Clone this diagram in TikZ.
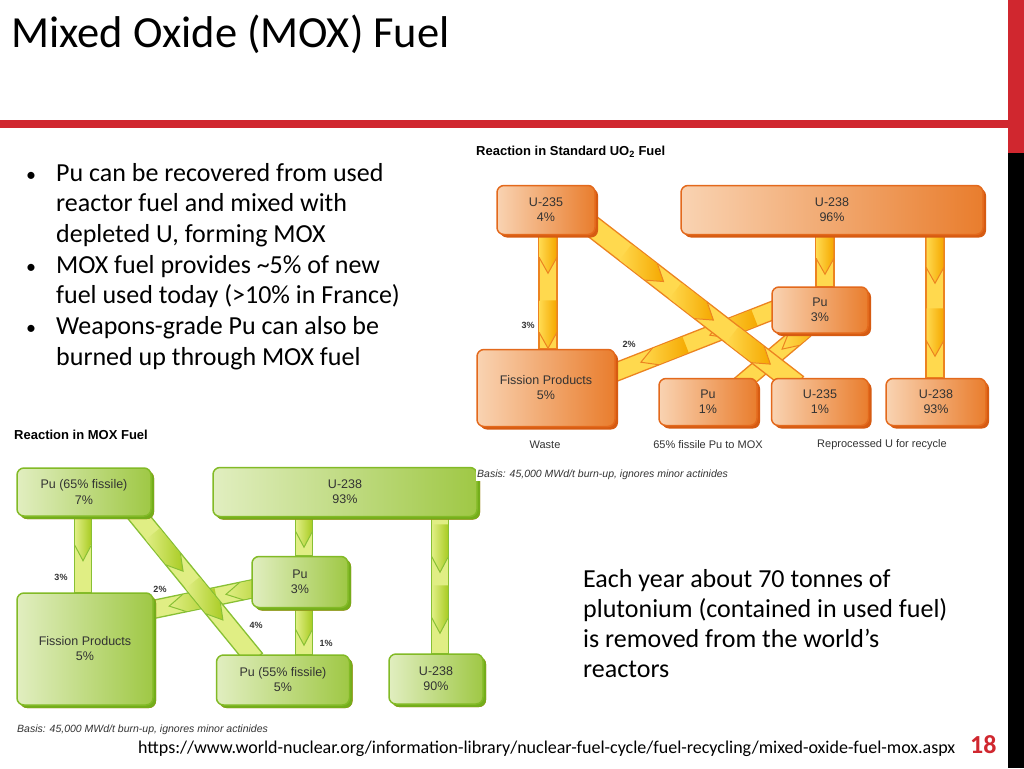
\documentclass[tikz,border=0pt]{standalone}
\usepackage{fontspec}
\setmainfont{Carlito}
\newfontfamily\arialfont{Liberation Sans}
\usetikzlibrary{calc,shadows,decorations.markings}
\definecolor{slidered}{HTML}{D0272F}
\definecolor{diagtext}{HTML}{333333}
\definecolor{oxedge}{HTML}{E3691C}
\definecolor{oxlight}{HTML}{F9D3B2}
\definecolor{oxdark}{HTML}{E97D2D}
\definecolor{oxshade}{HTML}{D65B12}
\definecolor{oxfill}{HTML}{FFD94E}
\definecolor{oxchev}{HTML}{F5A800}
\definecolor{oxband}{HTML}{EC8320}
\definecolor{gnedge}{HTML}{82BA26}
\definecolor{gnlight}{HTML}{E1EEC0}
\definecolor{gndark}{HTML}{9FC845}
\definecolor{gnshade}{HTML}{74AD1B}
\definecolor{gnfill}{HTML}{E0EE84}
\definecolor{gnchev}{HTML}{A9CC24}
\definecolor{gnband}{HTML}{88C034}
\pgfdeclarelayer{background}
\pgfsetlayers{background,main}
\newcommand{\dgfont}{\arialfont\fontsize{12.5}{15}\selectfont}
% one broad flow band between two points, with chevrons whose tips sit at the
% given distances (pt) from the start
\newcommand{\flowband}[5]{%
  \begin{pgfonlayer}{background}
  \path[fill=#1fill,draw=#1band,line width=1.3pt] ($(#2)!#4pt!90:(#3)$) -- ($(#3)!#4pt!-90:(#2)$)
    -- ($(#3)!#4pt!90:(#2)$) -- ($(#2)!#4pt!-90:(#3)$) -- cycle;
  \foreach \d in {#5}{
    \path[decoration={markings,mark=at position \d pt with {
      \shade[left color=#1fill,right color=#1chev] (-48,-#4+.6) -- (-16,-#4+.6) -- (0,0) -- (-16,#4-.6) -- (-48,#4-.6) -- cycle;
      \draw[#1band,line width=1pt] (-16,-#4) -- (0,0) -- (-16,#4);
    }},decorate] (#2) -- (#3);
  }
  \end{pgfonlayer}
}

\begin{document}
\begin{tikzpicture}[x=1pt,y=-1pt,
  oxbox/.style={draw=oxedge,line width=1.5pt,rounded corners=7pt,left color=oxlight,right color=oxdark,
    text=diagtext,align=center,font=\dgfont,inner sep=0pt,
    drop shadow={shadow xshift=3pt,shadow yshift=-3pt,fill=oxshade,opacity=1}},
  gnbox/.style={oxbox,draw=gnedge,left color=gnlight,right color=gndark,
    drop shadow={shadow xshift=3pt,shadow yshift=-3pt,fill=gnshade,opacity=1}},
  pct/.style={text=diagtext,font=\arialfont\bfseries\fontsize{9}{10}\selectfont,inner sep=0pt},
  foot/.style={text=diagtext,font=\arialfont\fontsize{11}{12}\selectfont,inner sep=0pt},
  basis/.style={text=diagtext,font=\arialfont\itshape\fontsize{10.5}{12}\selectfont,inner sep=1pt,anchor=west},
  head/.style={text=black,font=\arialfont\bfseries\fontsize{13}{14}\selectfont,inner sep=0pt,anchor=west},
  body/.style={font=\fontsize{26}{30}\selectfont,inner sep=0pt,anchor=base west}]
  \path[use as bounding box] (0,0) rectangle (1024,768);
  \begin{pgfonlayer}{background}
    \fill[white] (0,0) rectangle (1024,768);
  \end{pgfonlayer}

  % slide frame
  \fill[slidered] (0,120) rectangle (1008,128);
  \fill[slidered] (1008,0) rectangle (1024,153);
  \fill[black] (1008,153) rectangle (1024,768);
  \node[inner sep=0pt,anchor=base west,font=\fontsize{44.5}{50}\selectfont] (title) at (11,48) {Mixed Oxide (MOX) Fuel};

  % bullet list
  \foreach \txt [count=\k] in {Pu can be recovered from used,reactor fuel and mixed with,
      {depleted U, forming MOX},MOX fuel provides \textasciitilde5\% of new,fuel used today (>10\% in France),
      Weapons-grade Pu can also be,burned up through MOX fuel}
    \node[body] (line\k) at (56,{181+30.7*(\k-1)}) {\txt};
  \foreach \k in {1,4,6}
    \node[body,font=\fontsize{20}{30}\selectfont] (dot\k) at (26,{181+30.7*(\k-1)}) {•};

  % reaction in standard UO2 fuel
  \node[head] (headox) at (476,152) {Reaction in Standard UO\textsubscript{2} Fuel};
  \node[oxbox,minimum width=98pt,minimum height=49pt] (u235a) at (546,210) {U-235\\4\%};
  \node[oxbox,minimum width=302pt,minimum height=49pt] (u238a) at (832,210) {U-238\\96\%};
  \node[oxbox,minimum width=96pt,minimum height=46pt] (pua) at (820,310) {Pu\\3\%};
  \node[oxbox,minimum width=138pt,minimum height=77pt] (fpa) at (546,388) {Fission Products\\5\%};
  \node[oxbox,minimum width=98pt,minimum height=47pt] (pub) at (708,402) {Pu\\1\%};
  \node[oxbox,minimum width=97pt,minimum height=47pt] (u235b) at (820,402) {U-235\\1\%};
  \node[oxbox,minimum width=100pt,minimum height=47pt] (u238b) at (936,402) {U-238\\93\%};

  \coordinate (a1s) at ([xshift=2pt]u235a.south);
  \coordinate (a1e) at (a1s |- fpa.north);
  \coordinate (a2s) at ([xshift=5pt]pua.north |- u238a.south);
  \coordinate (a2e) at ([xshift=5pt]pua.north);
  \coordinate (a3s) at ([xshift=-1pt]u238b.north |- u238a.south);
  \coordinate (a3e) at ([xshift=-1pt]u238b.north);
  \coordinate (a4s) at ($(pua.west)+(13,-4)$);
  \coordinate (a4e) at ($(fpa.east)+(-10,-12)$);
  \coordinate (a5s) at ($(pua.south)+(-15,-4)$);
  \coordinate (a5e) at ($(pub.north)+(32,7)$);
  \coordinate (a6s) at ($(u235a.south east)+(-5,-10)$);
  \coordinate (a6e) at ($(u235b.north)+(-23,7)$);
  \flowband{ox}{a1s}{a1e}{9}{38,113}
  \flowband{ox}{a2s}{a2e}{9}{39}
  \flowband{ox}{a3s}{a3e}{9}{48,121}
  \flowband{ox}{a4s}{a4e}{9}{80,154}
  \flowband{ox}{a5s}{a5e}{8.5}{30}
  \flowband{ox}{a6s}{a6e}{10.5}{92,155,227}

  \node[pct] (pctox1) at (528,325) {3\%};
  \node[pct] (pctox2) at (629,344) {2\%};
  \node[foot] (waste) at (545,445) {Waste};
  \node[foot] (tomox) at (708,445) {65\% fissile Pu to MOX};
  \node[foot] (recycle) at (882,445) {Reprocessed U for recycle};

  % reaction in MOX fuel
  \node[head] (headgn) at (14,435) {Reaction in MOX Fuel};
  \node[gnbox,minimum width=134pt,minimum height=48pt] (pu65) at (84,492) {Pu (65\% fissile)\\7\%};
  \node[gnbox,minimum width=264pt,minimum height=49pt] (u238g) at (345,492) {U-238\\93\%};
  \node[gnbox,minimum width=96pt,minimum height=51pt] (pu3g) at (300,582) {Pu\\3\%};
  \node[gnbox,minimum width=136pt,minimum height=112pt] (fpg) at (85,649) {Fission Products\\5\%};
  \node[gnbox,minimum width=133pt,minimum height=50pt] (pu55) at (283,680) {Pu (55\% fissile)\\5\%};
  \node[gnbox,minimum width=94pt,minimum height=50pt] (u238h) at (436,679) {U-238\\90\%};

  \coordinate (g1s) at ([xshift=-1pt]pu65.south);
  \coordinate (g1e) at (g1s |- fpg.north);
  \coordinate (g2s) at ($(pu65.south east)+(-18,-6)$);
  \coordinate (g2e) at ($(pu55.north)+(-28,5)$);
  \coordinate (g3s) at ([xshift=4pt]pu3g.north |- u238g.south);
  \coordinate (g3e) at ([xshift=4pt]pu3g.north);
  \coordinate (g4s) at ([xshift=4pt]u238h.north |- u238g.south);
  \coordinate (g4e) at ([xshift=4pt]u238h.north);
  \coordinate (g5s) at ($(pu3g.west)+(10,5)$);
  \coordinate (g5e) at ($(fpg.east)+(-8,-38)$);
  \coordinate (g6s) at ([xshift=4pt]pu3g.south);
  \coordinate (g6e) at (g6s |- pu55.north);
  \flowband{gn}{g1s}{g1e}{8.5}{44}
  \flowband{gn}{g3s}{g3e}{8.5}{30}
  \flowband{gn}{g4s}{g4e}{8.5}{55,116}
  \flowband{gn}{g5s}{g5e}{9}{36,94}
  \flowband{gn}{g6s}{g6e}{8.5}{37}
  \flowband{gn}{g2s}{g2e}{9.5}{78,141}

  \node[pct] (pctgn1) at (61,577) {3\%};
  \node[pct] (pctgn2) at (160,589) {2\%};
  \node[pct] (pctgn3) at (256,625) {4\%};
  \node[pct] (pctgn4) at (326,643) {1\%};
  \node[basis] (basisgn) at (16,730) {Basis: 45,000 MWd/t burn-up, ignores minor actinides};
  \node[basis,fill=white] (basisox) at (476,475) {Basis: 45,000 MWd/t burn-up, ignores minor actinides};

  % side note and source
  \foreach \txt [count=\k] in {Each year about 70 tonnes of,plutonium (contained in used fuel),
      is removed from the world’s,reactors}
    \node[body] (note\k) at (583,{587+30.3*(\k-1)}) {\txt};
  \node[inner sep=0pt,anchor=base west,font=\fontsize{18}{20}\selectfont] (source) at (138,753)
    {https://www.world-nuclear.org/information-library/nuclear-fuel-cycle/fuel-recycling/mixed-oxide-fuel-mox.aspx};
  \node[inner sep=0pt,anchor=base west,text=slidered,font=\bfseries\fontsize{26}{28}\selectfont] (pageno) at (970,753) {18};
\end{tikzpicture}
\end{document}
